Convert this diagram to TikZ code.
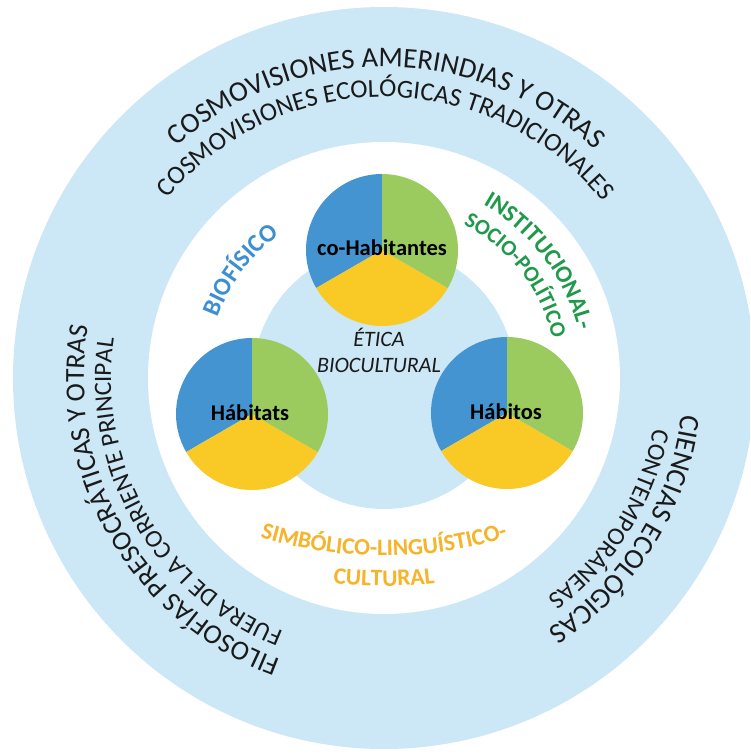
\documentclass[tikz,border=0pt]{standalone}
\usepackage{fontspec}
\setmainfont{Carlito}
\usetikzlibrary{decorations.text}
\definecolor{ringblue}{HTML}{CCE7F5}
\definecolor{pieblue}{HTML}{4394D1}
\definecolor{piegreen}{HTML}{9BCB5F}
\definecolor{pieyellow}{HTML}{F9C925}
\definecolor{txtblue}{HTML}{3D8FD4}
\definecolor{txtgreen}{HTML}{1F9A4A}
\definecolor{txtorange}{HTML}{F6B42A}
\definecolor{txtdark}{HTML}{1A1A1A}
\newcommand\fouter[1]{\fontsize{#1}{#1}\selectfont\color{txtdark}}
\newcommand\fbio{\fontsize{25}{25}\selectfont\bfseries\color{txtblue}}
\newcommand\finst[1]{\fontsize{#1}{#1}\selectfont\bfseries\color{txtgreen}}
\newcommand\fsimb{\fontsize{23.5}{24}\selectfont\bfseries\color{txtorange}}
\newcommand\mypie[2]{%
  \fill[pieblue] (#1) -- ++(90:#2) arc[start angle=90, end angle=210, radius=#2] -- cycle;
  \fill[pieyellow] (#1) -- ++(210:#2) arc[start angle=210, end angle=330, radius=#2] -- cycle;
  \fill[piegreen] (#1) -- ++(-30:#2) arc[start angle=-30, end angle=90, radius=#2] -- cycle;}
\begin{document}
\begin{tikzpicture}[x=1pt,y=1pt,
  pielabel/.style={font=\fontsize{22.5}{24}\selectfont\bfseries, text=black, inner sep=0pt},
  ethic/.style={font=\fontsize{22}{24}\selectfont\itshape, text=txtdark, inner sep=0pt},
  arctext/.style={decorate, decoration={text along path, text align=center, text={#1}}}]
\useasboundingbox (0,0) rectangle (750,755);
\clip (0,0) rectangle (750,755);
\coordinate (O) at (384,377);
\fill[ringblue] (O) circle[radius=371];
\fill[white] (O) circle[radius=236];
\fill[ringblue] (O) circle[radius=131];
% pies
\coordinate (pc) at (382,505);
\coordinate (pl) at (252,341);
\coordinate (pr) at (507,342);
\mypie{pc}{76}
\mypie{pl}{76}
\mypie{pr}{76}
\node[pielabel] (cohab) at (382,507) {co-Habitantes};
\node[pielabel] (habitats) at (250,342) {Hábitats};
\node[pielabel] (habitos) at (506,343) {Hábitos};
\node[ethic] (etica) at (379,418) {ÉTICA};
\node[ethic] (biocult) at (379,390) {BIOCULTURAL};
% outer ring texts
\path[arctext={|\fouter{28.5}|COSMOVISIONES AMERINDIAS Y OTRAS}] ([shift={(150:311)}]O) arc[start angle=150, end angle=29, radius=311];
\path[arctext={|\fouter{26}|COSMOVISIONES ECOLÓGICAS TRADICIONALES}] ([shift={(150:281)}]O) arc[start angle=150, end angle=29, radius=281];
\path[arctext={|\fouter{27.5}|FILOSOFÍAS PRESOCRÁTICAS Y OTRAS}] ([shift={(260:300)}]O) arc[start angle=260, end angle=160, radius=300];
\path[arctext={|\fouter{25}|FUERA DE LA CORRIENTE PRINCIPAL}] ([shift={(260:273)}]O) arc[start angle=260, end angle=160, radius=273];
\path[arctext={|\fouter{28.5}|CIENCIAS ECOLÓGICAS}] ([shift={(18:300)}]O) arc[start angle=18, end angle=-82, radius=300];
\path[arctext={|\fouter{25}|CONTEMPORÁNEAS}] ([shift={(18:274)}]O) arc[start angle=18, end angle=-82, radius=274];
% white ring texts
\path[arctext={|\fbio|BIOFÍSICO}] ([shift={(173:177)}]O) arc[start angle=173, end angle=113, radius=177];
\path[arctext={|\finst{24}|INSTITUCIONAL-}] ([shift={(70:200)}]O) arc[start angle=70, end angle=4, radius=200];
\path[arctext={|\finst{22}|SOCIO-POLÍTICO}] ([shift={(70:173)}]O) arc[start angle=70, end angle=6, radius=173];
\coordinate (S) at (384,619);
\path[arctext={|\fsimb|SIMBÓLICO-LINGUÍSTICO-}] ([shift={(245:420)}]S) arc[start angle=245, end angle=295, radius=420];
\path[arctext={|\fsimb|CULTURAL}] ([shift={(255:450)}]S) arc[start angle=255, end angle=285, radius=450];
\end{tikzpicture}
\end{document}
